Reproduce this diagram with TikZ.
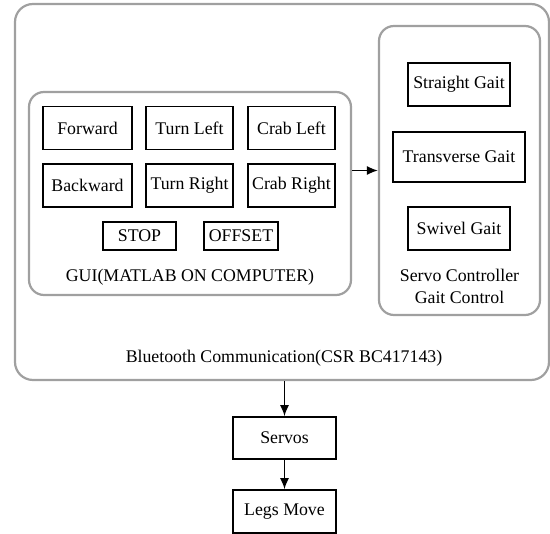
\documentclass[tikz,border=0pt]{standalone}
\usepackage{fontspec}
\setmainfont{Liberation Serif}
\usetikzlibrary{arrows.meta, calc}
\definecolor{framegray}{RGB}{160,160,160}
\tikzset{
	btn/.style={draw, line width=1.6pt, inner sep=0pt, minimum height=43pt},
	frame/.style={draw=framegray, line width=2.2pt, rounded corners=18pt, inner sep=0pt},
	lbl/.style={inner sep=0pt, align=center},
	flow/.style={-{Latex[length=11pt, width=9pt]}, line width=1.5pt}
}
\begin{document}
\begin{tikzpicture}[x=1pt, y=-1pt, font=\fontsize{17.8}{22}\selectfont]
		\useasboundingbox (0,0) rectangle (550,534);

		\node[frame, minimum width=534pt, minimum height=376pt] at (282,192) (bt) {};
		\node[frame, minimum width=322pt, minimum height=203pt, rounded corners=15pt] at (190,193.5) (gui) {};
		\node[frame, minimum width=161pt, minimum height=289pt, rounded corners=15pt] at (459.5,170.5) (servo) {};

		\node[btn, minimum width=89pt] at (87.5,128) (fwd) {Forward};
		\node[btn, minimum width=87pt] at (189.5,128) (tl) {Turn Left};
		\node[btn, minimum width=87pt] at (291.5,128) (cl) {Crab Left};
		\node[btn, minimum width=89pt] at (87.5,185.5) (bwd) {Backward};
		\node[btn, minimum width=87pt] at (189.5,185.5) (tr) {Turn Right};
		\node[btn, minimum width=87pt] at (291.5,185.5) (cr) {Crab Right};
		\node[btn, minimum width=73pt, minimum height=28pt] at (139.5,236) (stop) {STOP};
		\node[btn, minimum width=74pt, minimum height=28pt] at (241,236) (off) {OFFSET};
		\node[lbl] at (190,277) (guilbl) {GUI(MATLAB ON COMPUTER)};

		\node[btn, minimum width=102pt] at (459,84.5) (sg) {Straight Gait};
		\node[btn, minimum width=132pt, minimum height=50pt] at (459,157) (tg) {Transverse Gait};
		\node[btn, minimum width=102pt] at (459,228.5) (swg) {Swivel Gait};
		\node[lbl] at (459.5,286) (servolbl) {Servo Controller\\Gait Control};

		\node[lbl] at (284,358) (btlbl) {Bluetooth Communication(CSR BC417143)};

		\node[btn, minimum width=103pt, minimum height=42pt] at (284.5,438) (servos) {Servos};
		\node[btn, minimum width=103pt, minimum height=43pt] at (284.5,511.5) (legs) {Legs Move};

		\draw[flow] (servo.west -| gui.east) -- (servo.west);
		\draw[flow] (bt.south -| servos.north) -- (servos.north);
		\draw[flow] (servos) -- (legs);
	\end{tikzpicture}
\end{document}
